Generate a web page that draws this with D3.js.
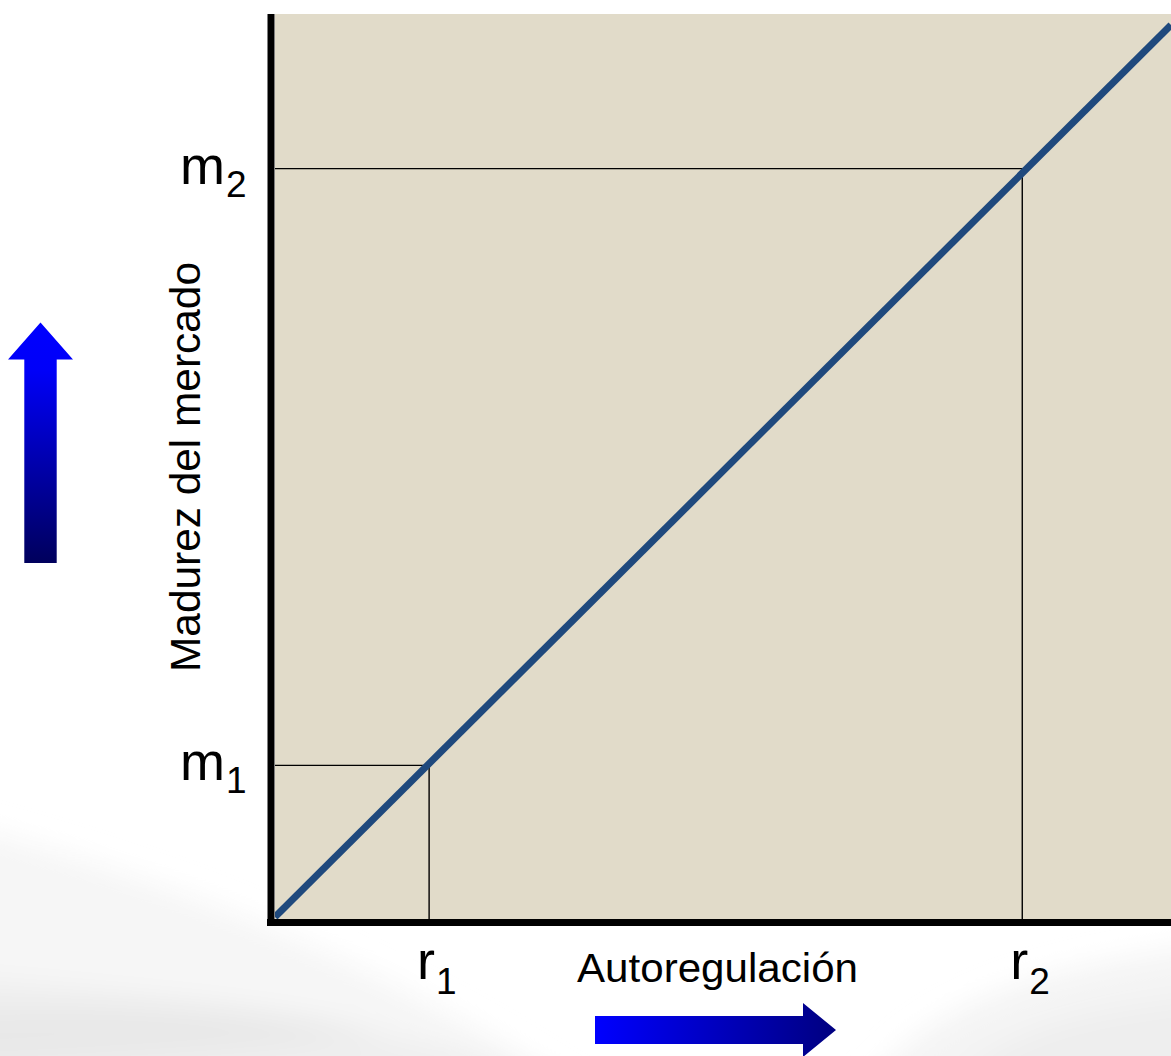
<!DOCTYPE html>
<html>
<head>
<meta charset="utf-8">
<script src="https://cdn.jsdelivr.net/npm/d3@7"></script>
<style>
  html, body { margin: 0; padding: 0; background: #ffffff; }
  svg { display: block; font-family: "Liberation Sans", Arial, sans-serif; }
</style>
</head>
<body>
<svg id="chart" width="1171" height="1056"></svg>
<script>
// Diagonal relation between self-regulation (x) and market maturity (y)
const lineX = [0, 100];
const lineY = [0, 100];

// Reference points marked on the diagonal
const pointNames = ["1", "2"];
const rValues = [17.2, 83.4];   // Autoregulación
const mValues = [17.0, 83.9];   // Madurez del mercado

const xTitle = "Autoregulación";
const yTitle = "Madurez del mercado";

const W = 1171, H = 1056;
const svg = d3.select("#chart");
const defs = svg.append("defs");

// faint grey swooshes in the page background (drawn past the edges so the blur stays even)
const blur = defs.append("filter").attr("id", "soft")
  .attr("filterUnits", "userSpaceOnUse")
  .attr("x", -200).attr("y", 600).attr("width", 1600).attr("height", 700);
blur.append("feGaussianBlur").attr("stdDeviation", 14);

const bg = svg.append("g").attr("filter", "url(#soft)");
bg.append("path")
  .attr("d", "M-150,800 C100,850 380,950 620,1120 L-150,1120 Z")
  .attr("fill", "#f6f6f6");
bg.append("path")
  .attr("d", "M-150,970 C200,995 420,1020 660,1120 L-150,1120 Z")
  .attr("fill", "#efefef");
bg.append("path")
  .attr("d", "M-150,1015 C120,1000 260,1005 380,1035 C260,1050 120,1060 -150,1070 Z")
  .attr("fill", "#e8e8e8");
bg.append("path")
  .attr("d", "M840,1120 C920,1005 1010,965 1300,935 L1300,1120 Z")
  .attr("fill", "#f4f4f4");
bg.append("path")
  .attr("d", "M920,1120 C990,1025 1080,1005 1300,990 L1300,1120 Z")
  .attr("fill", "#eeeeee");

// plot frame
const plot = { left: 275, right: 1171, top: 14, bottom: 919 };

const x = d3.scaleLinear().domain([0, 100]).range([275, 1171]);
const y = d3.scaleLinear().domain([0, 100]).range([917, 25]);

svg.append("rect")
  .attr("x", plot.left).attr("y", plot.top)
  .attr("width", plot.right - plot.left).attr("height", plot.bottom - plot.top)
  .attr("fill", "#e1dbc9");

defs.append("clipPath").attr("id", "plotClip")
  .append("rect")
  .attr("x", plot.left).attr("y", plot.top)
  .attr("width", plot.right - plot.left).attr("height", plot.bottom - plot.top);

const pts = pointNames.map((n, i) => ({ name: n, r: rValues[i], m: mValues[i] }));

// guide lines from the axes to each point
const guides = svg.append("g").attr("clip-path", "url(#plotClip)")
  .attr("stroke", "#000").attr("stroke-width", 1.4).attr("fill", "none");
pts.forEach(p => {
  guides.append("path")
    .attr("d", d3.line()([[x(0) - 5, y(p.m)], [x(p.r), y(p.m)], [x(p.r), plot.bottom + 2]]));
});

// diagonal
const lineData = lineX.map((v, i) => [v, lineY[i]]);
svg.append("path")
  .datum(lineData)
  .attr("clip-path", "url(#plotClip)")
  .attr("d", d3.line().x(d => x(d[0])).y(d => y(d[1])))
  .attr("stroke", "#1f497d").attr("stroke-width", 7).attr("fill", "none");

// axes
svg.append("line").attr("x1", 271).attr("x2", 271).attr("y1", 14).attr("y2", 926)
  .attr("stroke", "#000").attr("stroke-width", 7);
svg.append("line").attr("x1", 267).attr("x2", W).attr("y1", 922.5).attr("y2", 922.5)
  .attr("stroke", "#000").attr("stroke-width", 7);

// point labels with subscripts
function subLabel(sel, base, sub, bx, by, subDy) {
  const t = sel.append("text").attr("x", bx).attr("y", by).attr("fill", "#000");
  t.append("tspan").attr("font-size", 54).text(base);
  t.append("tspan").attr("font-size", 37).attr("dy", subDy).attr("dx", 1).text(sub);
}
const labels = svg.append("g");
pts.forEach(p => {
  subLabel(labels, "m", p.name, 180, y(p.m) + 15, 13);
  subLabel(labels, "r", p.name, x(p.r) - 12, 979, 15);
});

// axis titles
svg.append("text")
  .attr("x", 577).attr("y", 982)
  .attr("font-size", 40)
  .attr("textLength", 281).attr("lengthAdjust", "spacingAndGlyphs")
  .attr("fill", "#000")
  .text(xTitle);

svg.append("text")
  .attr("transform", "translate(200,467) rotate(-90)")
  .attr("text-anchor", "middle")
  .attr("font-size", 42)
  .attr("textLength", 410).attr("lengthAdjust", "spacingAndGlyphs")
  .attr("fill", "#000")
  .text(yTitle);

// direction arrows
const gUp = defs.append("linearGradient").attr("id", "gradUp")
  .attr("x1", 0).attr("y1", 0).attr("x2", 0).attr("y2", 1);
gUp.append("stop").attr("offset", "0%").attr("stop-color", "#0000ff");
gUp.append("stop").attr("offset", "20%").attr("stop-color", "#0000f8");
gUp.append("stop").attr("offset", "100%").attr("stop-color", "#00005c");

const gRight = defs.append("linearGradient").attr("id", "gradRight")
  .attr("x1", 0).attr("y1", 0).attr("x2", 1).attr("y2", 0);
gRight.append("stop").attr("offset", "0%").attr("stop-color", "#0000ff");
gRight.append("stop").attr("offset", "100%").attr("stop-color", "#000080");

svg.append("path")
  .attr("d", "M40.5,322.5 L73,359.5 L56.7,359.5 L56.7,563 L24.3,563 L24.3,359.5 L8,359.5 Z")
  .attr("fill", "url(#gradUp)");

svg.append("path")
  .attr("d", "M836,1030 L803,1003 L803,1016 L595,1016 L595,1044 L803,1044 L803,1057 Z")
  .attr("fill", "url(#gradRight)");
</script>
</body>
</html>
